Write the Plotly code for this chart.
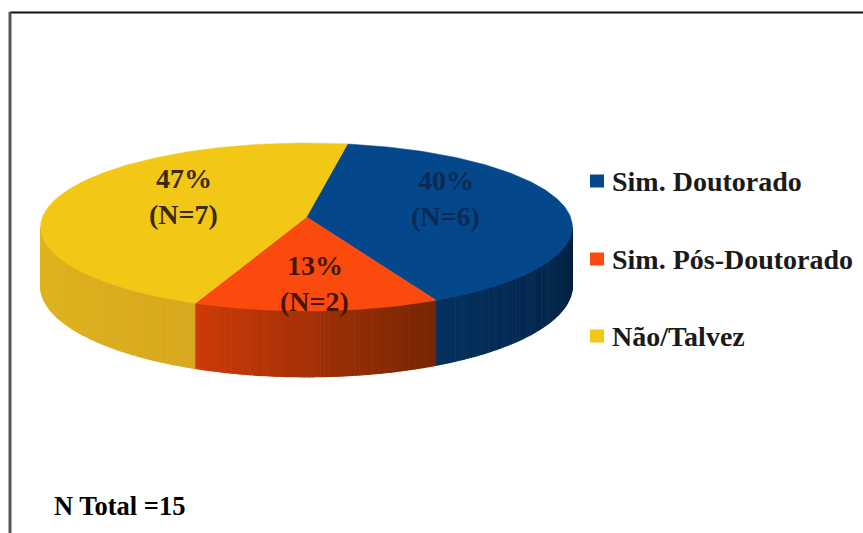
import math
import plotly.graph_objects as go

categories = ["Sim. Doutorado", "Sim. Pós-Doutorado", "Não/Talvez"]
counts = [6, 2, 7]
top_colors = ["#04478A", "#FB4A0E", "#F3C716"]
side_left = ["#04305F", "#CE3A08", "#E0B41E"]
side_right = ["#011F3E", "#742503", "#D9A91E"]
label_colors = ["#0B2A55", "#4A1404", "#3A2A08"]
total_label = "N Total =15"

W, H = 863, 533
CX, CY, A, B, K = 306.5, 217, 264, 82.8, 0.119
START = 10
DEPTH = 58
total = sum(counts)


def project(deg, r=1.0):
    t = math.radians(deg)
    u, v = r * math.sin(t), r * math.cos(t)
    w = 1 + K * v
    return CX + A * u / w, CY - B * v / w


def drop(deg):
    return DEPTH / (1 + K * math.cos(math.radians(deg)))


def hexmix(a, b, f):
    ca = [int(a[i:i + 2], 16) for i in (1, 3, 5)]
    cb = [int(b[i:i + 2], 16) for i in (1, 3, 5)]
    return "#%02X%02X%02X" % tuple(round(x + (y - x) * f) for x, y in zip(ca, cb))


bounds = [START]
for c in counts:
    bounds.append(bounds[-1] + c / total * 360)

S0 = 90 + math.degrees(math.asin(K))
S1 = 270 - math.degrees(math.asin(K))

fig = go.Figure()

# side wall
for i in range(len(counts)):
    a0, a1 = max(bounds[i], S0), min(bounds[i + 1], S1)
    if a1 <= a0:
        continue
    n = max(3, int((a1 - a0) / 0.75))
    for j in range(n):
        d0 = a0 + (a1 - a0) * j / n
        d1 = a0 + (a1 - a0) * (j + 1) / n
        ds = [d0, (d0 + d1) / 2, d1]
        xs = [project(d)[0] for d in ds] + [project(d)[0] for d in reversed(ds)]
        ys = [project(d)[1] for d in ds] + [project(d)[1] + drop(d) for d in reversed(ds)]
        # angles run clockwise: the right end of the wall comes first
        col = hexmix(side_right[i], side_left[i], (j + 0.5) / n)
        fig.add_trace(go.Scatter(x=xs, y=ys, mode="none", fill="toself", fillcolor=col,
                                 hoverinfo="skip", showlegend=False))
        # overlap the next strip slightly so no seam shows
        fig.add_trace(go.Scatter(x=xs, y=ys, mode="lines", line=dict(color=col, width=1.2),
                                 hoverinfo="skip", showlegend=False))

# top face
for i, name in enumerate(categories):
    a0, a1 = bounds[i], bounds[i + 1]
    n = int(a1 - a0) + 1
    pts = [project(a0 + (a1 - a0) * q / n) for q in range(n + 1)]
    xs = [CX] + [p[0] for p in pts] + [CX]
    ys = [CY] + [p[1] for p in pts] + [CY]
    fig.add_trace(go.Scatter(x=xs, y=ys, mode="lines", fill="toself", fillcolor=top_colors[i],
                             line=dict(color=top_colors[i], width=0.5), name=name, showlegend=False))

annotations = []
FONT = "Liberation Serif"
label_r = [0.62, 0.64, 0.63]
label_dx = [-21, 2, 34]
label_dy = [-11, 9, -6]
for i, c in enumerate(counts):
    mid = (bounds[i] + bounds[i + 1]) / 2
    x, y = project(mid, label_r[i])
    x += label_dx[i]
    y += label_dy[i]
    for text, dy in ((f"{round(c / total * 100)}%", -18), (f"(N={c})", 18)):
        annotations.append(dict(x=x, y=y + dy, xref="x", yref="y", text=f"<b>{text}</b>", showarrow=False,
                                xanchor="center", yanchor="middle",
                                font=dict(family=FONT, size=28, color=label_colors[i])))

shapes = []
legend_y = [181, 259, 336]
for name, col, y in zip(categories, top_colors, legend_y):
    shapes.append(dict(type="rect", xref="x", yref="y", x0=590, x1=604, y0=y - 6.5, y1=y + 6.5,
                       fillcolor=col, line_width=0))
    annotations.append(dict(x=609.5, y=y, xref="x", yref="y", text=f"<b>{name}</b>", showarrow=False,
                            xanchor="left", yanchor="middle",
                            font=dict(family=FONT, size=28, color="#1A1A1A")))

annotations.append(dict(x=52, y=506, xref="x", yref="y", text=f"<b>{total_label}</b>", showarrow=False,
                        xanchor="left", yanchor="middle", font=dict(family=FONT, size=26.5, color="#000000")))

# frame
shapes.append(dict(type="line", xref="x", yref="y", x0=10, x1=W, y0=12.5, y1=12.5,
                   line=dict(color="#111111", width=2)))
shapes.append(dict(type="line", xref="x", yref="y", x0=10, x1=10, y0=12, y1=H,
                   line=dict(color="#555555", width=3)))

fig.update_layout(
    width=W, height=H, margin=dict(l=0, r=0, t=0, b=0),
    paper_bgcolor="white", plot_bgcolor="white", showlegend=False,
    xaxis=dict(range=[0, W], visible=False, fixedrange=True),
    yaxis=dict(range=[H, 0], visible=False, fixedrange=True),
    annotations=annotations, shapes=shapes,
)
fig.write_html("out.html", config={"displayModeBar": False},
               post_script="document.body.style.margin='0';document.body.style.overflow='hidden';")
